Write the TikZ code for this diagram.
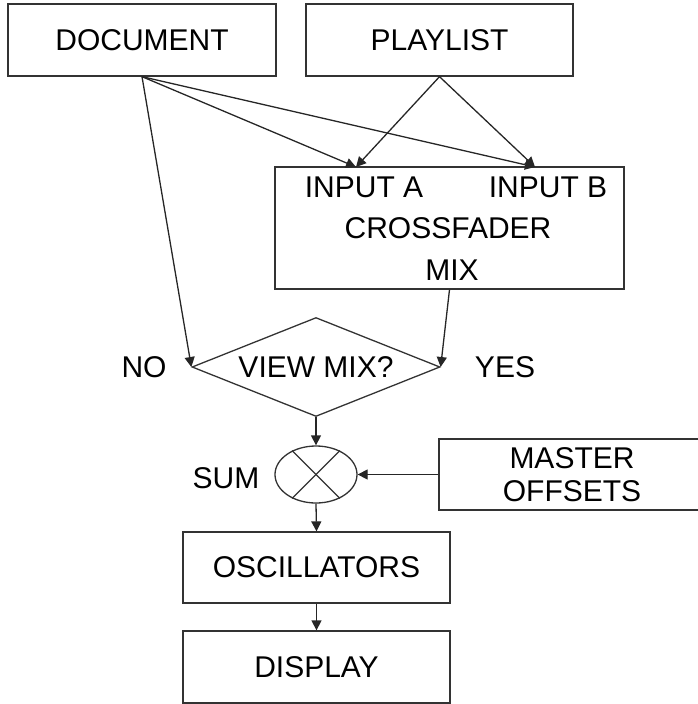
\documentclass[tikz,border=0pt]{standalone}
\usepackage{fontspec}
\setmainfont{Liberation Sans}
\usetikzlibrary{arrows.meta,shapes.geometric}

\begin{document}
\begin{tikzpicture}[x=1pt,y=-1pt,
    font=\fontsize{30}{33}\selectfont,
    line width=1.3pt,
    block/.style={draw=black!80,rectangle,inner sep=0pt},
    decision/.style={draw=black!80,diamond,aspect=2.5,inner sep=0pt,minimum width=248pt,minimum height=99pt},
    summer/.style={draw=black!80,ellipse,inner sep=0pt,minimum width=82pt,minimum height=57pt},
    arr/.style={draw=black!85,-{Triangle[length=10pt,width=10pt]}}]
                \clip (0,0) rectangle (698,704);
                % boxes
                \node[block,minimum width=268pt,minimum height=72pt] (document) at (142,40) {DOCUMENT};
                \node[block,minimum width=267pt,minimum height=72pt] (playlist) at (439.5,40) {PLAYLIST};
                \node[block,minimum width=349pt,minimum height=122pt] (xfade) at (449.5,228) {};
                \node (inputa) at (364,187) {INPUT A};
                \node (inputb) at (548,187) {INPUT B};
                \node (crossfader) at (448,228) {CROSSFADER};
                \node (mix) at (452,270) {MIX};
                \node[decision] (view) at (316,367) {VIEW MIX?};
                \node (no) at (144,367) {NO};
                \node (yes) at (505,367) {YES};
                \node[summer] (sum) at (316,474.5) {};
                \node (sumlabel) at (226,478) {SUM};
                \node[block,minimum width=266pt,minimum height=71pt,align=center] (master) at (572,474.5) {MASTER\\OFFSETS};
                \node[block,minimum width=267pt,minimum height=71pt] (osc) at (316.5,567.5) {OSCILLATORS};
                \node[block,minimum width=267pt,minimum height=72pt] (display) at (316.5,667) {DISPLAY};
                \coordinate (ina) at (356,167);
                \coordinate (inb) at (535,167);
                % cross in the summer
                \draw[black!80] (sum.135) -- (sum.-45);
                \draw[black!80] (sum.45) -- (sum.-135);
                % connectors
                \draw[arr] (document.south) -- (ina);
                \draw[arr] (document.south) -- (inb);
                \draw[arr] (playlist.south) -- (ina);
                \draw[arr] (playlist.south) -- (inb);
                \draw[arr] (document.south) -- (view.west);
                \draw[arr] (xfade.south) -- (view.east);
                \draw[arr] (view.south) -- (sum.north);
                \draw[arr] (master.west) -- (sum.east);
                \draw[arr] (sum.south) -- (osc.north);
                \draw[arr] (osc.south) -- (display.north);
            \end{tikzpicture}
\end{document}
